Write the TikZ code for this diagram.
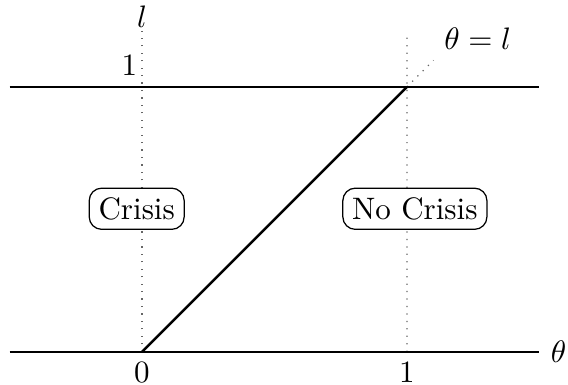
\documentclass[tikz,border=0pt]{standalone}
\usepackage{amsmath}

\newcommand*{\xmin}{-0.5}
\newcommand*{\xmax}{1.5}
\newcommand*{\ytop}{1.21}

\begin{document}
\begin{tikzpicture}
[
	region/.style={draw,rounded corners=4pt,inner sep=3pt},
	guide/.style={dotted,gray!80!black},
	bound/.style={thick},
	scale=3
]
	\useasboundingbox (-0.536,-0.125) rectangle (1.608,1.328);

	% points
	\coordinate (O) at (0,0);
	\coordinate (A) at (1,0);
	\coordinate (B) at (1,1);
	\coordinate (T) at (0,1);
	\coordinate (ext) at (1.1,1.1);

	% dotted guides
	\draw[guide] (O) -- (0,\ytop) node[above,black,inner sep=1pt] (lab) {$l$};
	\draw[guide] (A) -- (1,1.2);
	\draw[guide] (B) -- (ext) node[above right,black] (diag) {$\theta=l$};

	% horizontal lines
	\draw[bound] (\xmin,0) -- (\xmax,0) node[right] (th) {$\theta$};
	\draw[bound] (\xmin,1) -- (\xmax,1);

	% labels
	\node[above left,xshift=2pt] at (T) (one) {$1$};
	\node[below] at (O) (zero) {$0$};
	\node[below] at (A) (onex) {$1$};

	% the line theta = l
	\draw[bound] (O) -- (B);

	% regions
	\node[region,fill=white] at (-0.02,0.54) (crisis) {Crisis};
	\node[region,fill=white] at (1.03,0.54) (nocrisis) {No Crisis};

\end{tikzpicture}
\end{document}
